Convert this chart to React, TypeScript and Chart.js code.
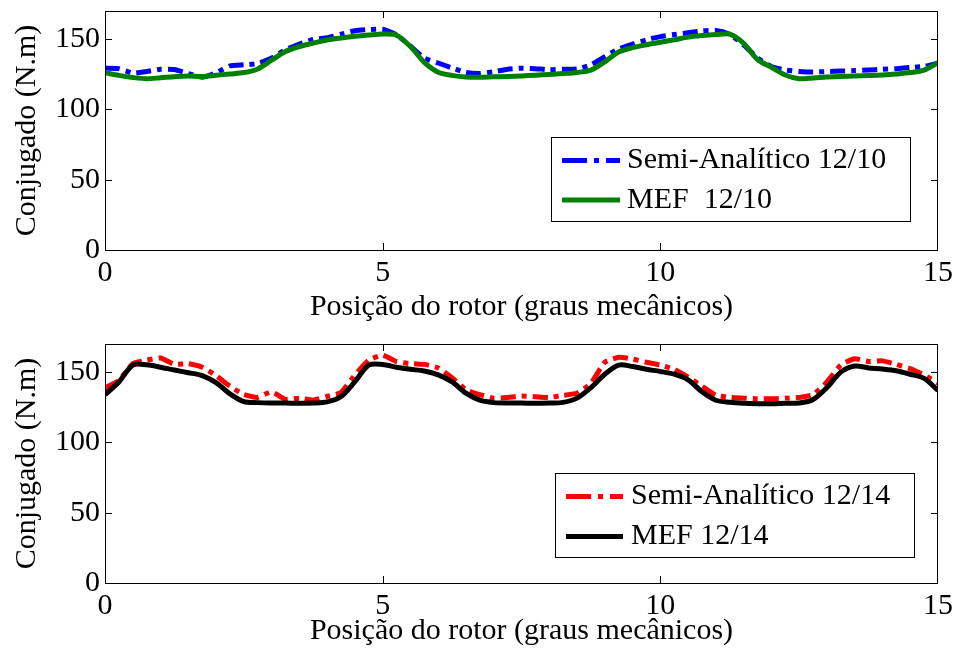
import React, { useEffect, useRef } from "react";
import { Chart, registerables } from "chart.js";

Chart.register(...registerables);

// ---- data ----
const positions = [
  0, 0.25, 0.5, 0.75, 1, 1.25, 1.5, 1.75, 2, 2.25, 2.5, 2.75, 3, 3.25, 3.5, 3.75,
  4, 4.25, 4.5, 4.75, 5, 5.25, 5.5, 5.75, 6, 6.25, 6.5, 6.75, 7, 7.25, 7.5, 7.75,
  8, 8.25, 8.5, 8.75, 9, 9.25, 9.5, 9.75, 10, 10.25, 10.5, 10.75, 11, 11.25, 11.5,
  11.75, 12, 12.25, 12.5, 12.75, 13, 13.25, 13.5, 13.75, 14, 14.25, 14.5, 14.75, 15,
];

const semi1210 = [
  129.3, 129.0, 125.8, 127.0, 128.6, 128.4, 125.5, 122.9, 126.0, 131.0, 131.7,
  132.6, 136.5, 142.5, 146.5, 149.8, 151.0, 153.5, 156.0, 156.8, 157.0,
  153.0, 145.0, 136.5, 133.0, 129.5, 126.3, 125.5, 126.8, 128.6, 129.3,
  129.0, 128.2, 128.6, 128.8, 131.7, 137.5, 143.0, 146.5, 149.5, 151.8,
  153.3, 154.5, 155.8, 156.2, 153.5, 146.0, 136.5, 130.5, 128.0, 127.0,
  126.6, 126.9, 127.3, 127.6, 128.0, 128.5, 129.0, 129.8, 130.6, 132.9,
];

const mef1210 = [
  126.2, 124.2, 122.7, 121.8, 122.5, 123.3, 123.8, 123.4, 124.3, 125.2, 126.2,
  128.8, 135.0, 141.2, 144.7, 147.2, 149.4, 150.8, 152.0, 152.9, 153.6,
  152.8, 144.7, 133.5, 126.5, 124.2, 123.0, 122.8, 123.2, 123.4, 123.8,
  124.3, 124.9, 125.5, 126.3, 128.0, 133.8, 140.8, 143.9, 146.0, 147.8,
  149.5, 151.4, 152.5, 153.2, 153.5, 147.0, 135.5, 130.0, 124.5, 121.8,
  122.4, 123.0, 123.4, 123.8, 124.1, 124.5, 125.2, 126.2, 128.0, 133.3,
];

const semi1214 = [
  138.7, 144.0, 156.0, 158.5, 160.0, 155.5, 156.0, 153.5, 147.5, 140.0, 134.0,
  132.0, 136.0, 130.5, 131.5, 130.0, 132.7, 135.5, 148.0, 158.5, 162.0,
  157.5, 156.0, 155.5, 153.0, 146.0, 137.5, 134.0, 131.5, 132.0, 133.0,
  132.5, 132.0, 133.5, 135.0, 142.0, 157.0, 160.5, 159.3, 157.0, 155.0,
  152.0, 146.5, 140.0, 133.5, 132.0, 131.5, 131.0, 131.0, 131.5, 132.0,
  134.0, 143.0, 155.0, 159.5, 157.6, 158.0, 155.5, 152.5, 148.0, 142.2,
];

const mef1214 = [
  133.9, 143.0, 155.0, 155.2, 153.5, 151.5, 149.6, 147.5, 142.5, 134.5, 129.0,
  128.3, 128.0, 128.0, 127.8, 128.0, 128.8, 132.6, 143.2, 155.0, 155.4,
  153.5, 152.0, 150.8, 148.0, 143.0, 135.0, 130.0, 128.3, 128.0, 128.0,
  127.8, 128.0, 128.5, 131.5, 139.0, 148.5, 155.0, 154.0, 152.0, 150.5,
  148.5, 144.5, 136.0, 130.0, 128.5, 127.8, 127.5, 127.5, 127.8, 128.0,
  130.5, 139.0, 150.0, 154.3, 153.0, 152.2, 151.0, 148.5, 145.5, 137.0,
];

const xTicks = [0, 5, 10, 15];
const yTicks = [0, 50, 100, 150];
const xTitle = "Posição do rotor (graus mecânicos)";
const yTitle = "Conjugado (N.m)";

// ---- styling ----
const FONT_FAMILY = "'Liberation Serif', 'Times New Roman', serif";
const FONT_SIZE = 30;

const framePlugin = {
  id: "frame",
  afterDatasetsDraw(chart: any) {
    const { ctx, chartArea, scales } = chart;
    const { left, right, top, bottom } = chartArea;
    ctx.save();
    ctx.strokeStyle = "#000";
    ctx.lineWidth = 1;
    ctx.setLineDash([]);
    ctx.strokeRect(left + 0.5, top + 0.5, right - left - 1, bottom - top);
    const tl = 7;
    ctx.beginPath();
    yTicks.forEach((v) => {
      if (v === 0) return;
      const py = Math.round(scales.y.getPixelForValue(v)) + 0.5;
      ctx.moveTo(left, py);
      ctx.lineTo(left + tl, py);
      ctx.moveTo(right, py);
      ctx.lineTo(right - tl, py);
    });
    xTicks.forEach((v) => {
      if (v === 0 || v === 15) return;
      const px = Math.round(scales.x.getPixelForValue(v)) + 0.5;
      ctx.moveTo(px, bottom);
      ctx.lineTo(px, bottom - tl);
      ctx.moveTo(px, top);
      ctx.lineTo(px, top + tl);
    });
    ctx.stroke();
    ctx.restore();
  },
};

const boxLegendPlugin = {
  id: "boxLegend",
  afterDraw(chart: any, _args: any, opts: any) {
    const { ctx } = chart;
    const { x, y, w, h, rows, sampleX0, sampleX1, textX, dashes } = opts;
    ctx.save();
    ctx.fillStyle = "#fff";
    ctx.fillRect(x, y, w, h);
    ctx.strokeStyle = "#000";
    ctx.lineWidth = 1;
    ctx.setLineDash([]);
    ctx.strokeRect(x + 0.5, y + 0.5, w, h);
    chart.data.datasets.forEach((d: any, k: number) => {
      const ry = rows[k];
      ctx.beginPath();
      ctx.setLineDash(dashes[k]);
      ctx.strokeStyle = d.borderColor;
      ctx.lineWidth = d.borderWidth;
      ctx.lineCap = "butt";
      ctx.moveTo(sampleX0, ry);
      ctx.lineTo(sampleX1, ry);
      ctx.stroke();
      ctx.setLineDash([]);
      ctx.fillStyle = "#000";
      ctx.font = `${FONT_SIZE}px ${FONT_FAMILY}`;
      ctx.textBaseline = "middle";
      ctx.textAlign = "left";
      ctx.fillText(d.label, textX, ry);
    });
    ctx.restore();
  },
};

type Layout = {
  padTop: number;
  padRight: number;
  yAxisWidth: number;
  xAxisHeight: number;
  xTitlePad: number;
  legend: any;
};

function makeConfig(
  semi: number[],
  mef: number[],
  semiLabel: string,
  mefLabel: string,
  semiColor: string,
  mefColor: string,
  lay: Layout
): any {
  const font = { family: FONT_FAMILY, size: FONT_SIZE };
  return {
    type: "line",
    data: {
      datasets: [
        {
          label: semiLabel,
          data: positions.map((p, i) => ({ x: p, y: semi[i] })),
          borderColor: semiColor,
          borderWidth: 5,
          borderDash: [15, 6, 5, 6],
          pointRadius: 0,
          tension: 0.15,
          fill: false,
          order: 2,
        },
        {
          label: mefLabel,
          data: positions.map((p, i) => ({ x: p, y: mef[i] })),
          borderColor: mefColor,
          borderWidth: 5,
          pointRadius: 0,
          tension: 0.3,
          fill: false,
          order: 1,
        },
      ],
    },
    options: {
      animation: false,
      responsive: false,
      maintainAspectRatio: false,
      devicePixelRatio: 1,
      events: [],
      layout: {
        padding: { left: 0, right: lay.padRight, top: lay.padTop, bottom: 0 },
      },
      plugins: {
        legend: { display: false },
        tooltip: { enabled: false },
        boxLegend: lay.legend,
      },
      scales: {
        x: {
          type: "linear",
          min: 0,
          max: 15,
          afterBuildTicks: (s: any) => {
            s.ticks = xTicks.map((v) => ({ value: v }));
          },
          afterFit: (s: any) => {
            s.height = lay.xAxisHeight;
            s.paddingLeft = 0;
            s.paddingRight = 0;
            s.paddingTop = 0;
            s.paddingBottom = 0;
          },
          grid: { display: false, drawTicks: false },
          border: { display: false },
          ticks: { color: "#000", font, padding: 5, maxRotation: 0 },
          title: {
            display: true,
            text: xTitle,
            color: "#000",
            font: { ...font, lineHeight: 1.1 },
            padding: { top: 0, bottom: lay.xTitlePad },
          },
        },
        y: {
          type: "linear",
          min: 0,
          max: 170,
          afterBuildTicks: (s: any) => {
            s.ticks = yTicks.map((v) => ({ value: v }));
          },
          afterFit: (s: any) => {
            s.width = lay.yAxisWidth;
            s.paddingLeft = 0;
            s.paddingRight = 0;
            s.paddingTop = 0;
            s.paddingBottom = 0;
          },
          grid: { display: false, drawTicks: false },
          border: { display: false },
          ticks: { color: "#000", font, padding: 5 },
          title: {
            display: true,
            text: yTitle,
            color: "#000",
            font,
            padding: { top: 9, bottom: 0 },
          },
        },
      },
    },
    plugins: [framePlugin, boxLegendPlugin],
  };
}

export default function App() {
  const topRef = useRef<HTMLCanvasElement>(null);
  const botRef = useRef<HTMLCanvasElement>(null);

  useEffect(() => {
    const c1 = new Chart(
      topRef.current as HTMLCanvasElement,
      makeConfig(semi1210, mef1210, "Semi-Analítico 12/10", "MEF  12/10", "#0000ff", "#008000", {
        padTop: 11,
        padRight: 19,
        yAxisWidth: 105,
        xAxisHeight: 75,
        xTitlePad: 1.5,
        legend: {
          x: 551,
          y: 137,
          w: 359,
          h: 84,
          rows: [160.5, 200],
          sampleX0: 562,
          sampleX1: 620,
          textX: 627,
          dashes: [[25, 7, 5, 7], []],
        },
      })
    );
    const c2 = new Chart(
      botRef.current as HTMLCanvasElement,
      makeConfig(semi1214, mef1214, "Semi-Analítico 12/14", "MEF 12/14", "#ff0000", "#000000", {
        padTop: 19,
        padRight: 19,
        yAxisWidth: 105,
        xAxisHeight: 65,
        xTitlePad: 0.5,
        legend: {
          x: 555,
          y: 148,
          w: 359,
          h: 84,
          rows: [171.5, 211.5],
          sampleX0: 566,
          sampleX1: 623,
          textX: 631,
          dashes: [[25, 7, 5, 7], []],
        },
      })
    );
    return () => {
      c1.destroy();
      c2.destroy();
    };
  }, []);

  return (
    <div
      style={{
        position: "fixed",
        left: 0,
        top: 0,
        width: 957,
        height: 648,
        background: "#fff",
        overflow: "hidden",
      }}
    >
      <canvas
        ref={topRef}
        width={957}
        height={325}
        style={{ position: "absolute", left: 0, top: 0, width: 957, height: 325 }}
      />
      <canvas
        ref={botRef}
        width={957}
        height={323}
        style={{ position: "absolute", left: 0, top: 325, width: 957, height: 323 }}
      />
    </div>
  );
}
